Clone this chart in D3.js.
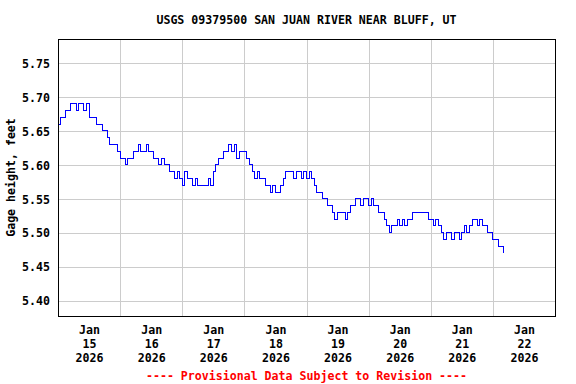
<!DOCTYPE html>
<html>
<head>
<meta charset="utf-8">
<script src="https://cdn.jsdelivr.net/npm/d3@7"></script>
<style>
body { margin:0; background:#fff; }
text { font-family: "DejaVu Sans Mono", monospace; font-weight: bold; font-size: 11.6px; }
.grid line { stroke:#cccccc; shape-rendering:crispEdges; }
.grid path { display:none; }
</style>
</head>
<body>
<div id="chart"></div>
<script>
// gage height, hourly, starting Jan 15 2026 00:00
var startTime = Date.UTC(2026, 0, 15, 0, 0);
var gageHeight = [
 5.66,5.67,5.67,5.68,5.68,5.69,5.69,5.68,5.69,5.69,5.68,5.69,5.67,5.67,5.67,5.66,5.66,5.65,5.65,5.64,5.63,5.63,5.63,5.62,
 5.61,5.61,5.60,5.61,5.61,5.62,5.62,5.63,5.62,5.62,5.63,5.62,5.62,5.61,5.61,5.60,5.61,5.60,5.60,5.59,5.59,5.58,5.59,5.58,
 5.57,5.59,5.58,5.58,5.57,5.58,5.57,5.57,5.57,5.57,5.58,5.57,5.59,5.60,5.61,5.61,5.62,5.62,5.63,5.62,5.63,5.61,5.62,5.62,
 5.62,5.61,5.60,5.59,5.58,5.59,5.58,5.58,5.57,5.57,5.56,5.57,5.56,5.56,5.57,5.58,5.59,5.59,5.59,5.58,5.59,5.59,5.58,5.59,
 5.58,5.59,5.58,5.57,5.56,5.56,5.55,5.55,5.54,5.54,5.53,5.52,5.53,5.53,5.53,5.52,5.53,5.54,5.54,5.55,5.55,5.54,5.55,5.55,
 5.54,5.55,5.54,5.54,5.53,5.53,5.52,5.51,5.50,5.51,5.51,5.52,5.51,5.52,5.51,5.52,5.52,5.53,5.53,5.53,5.53,5.53,5.53,5.52,
 5.52,5.51,5.52,5.51,5.50,5.49,5.50,5.50,5.49,5.50,5.50,5.49,5.50,5.51,5.50,5.51,5.52,5.52,5.51,5.52,5.51,5.51,5.50,5.50,
 5.49,5.49,5.48,5.48,5.47
];
var yTicks = [5.40,5.45,5.50,5.55,5.60,5.65,5.70,5.75];
var dayLabels = [15,16,17,18,19,20,21,22];
var monthLabel = "Jan";
var yearLabel = "2026";
var title = "USGS 09379500 SAN JUAN RIVER NEAR BLUFF, UT";
var yTitle = "Gage height, feet";
var footer = "---- Provisional Data Subject to Revision ----";

var W = 576, H = 384;
var margin = {left:58, top:39, right:21, bottom:68};
var w = W - margin.left - margin.right;
var h = H - margin.top - margin.bottom;

var data = gageHeight.map(function(v,i){
    return {t:new Date(startTime + i*3600000), v:v};
});

var svg = d3.select("#chart").append("svg").attr("width",W).attr("height",H);
var g = svg.append("g").attr("transform","translate("+margin.left+","+margin.top+")");

var x = d3.scaleUtc()
    .domain([new Date(Date.UTC(2026,0,15)), new Date(Date.UTC(2026,0,23))])
    .range([0,w]);
var y = d3.scaleLinear().domain([5.3775,5.7853]).range([h,0]);

// horizontal grid + labels
g.append("g").attr("class","grid")
    .call(d3.axisLeft(y).tickValues(yTicks).tickSize(-w).tickPadding(8).tickFormat(d3.format(".2f")))
    .selectAll("text").attr("fill","#000").attr("dy","0.36em");

// vertical grid at midnight
var midnights = d3.range(1,8).map(function(i){ return new Date(Date.UTC(2026,0,15+i)); });
g.append("g").attr("class","grid").attr("transform","translate(0,"+h+")")
    .call(d3.axisBottom(x).tickValues(midnights).tickSize(-h).tickFormat(""));

// day labels at noon
var noons = dayLabels.map(function(d){ return new Date(Date.UTC(2026,0,d,12)); });
var xl = g.append("g").attr("transform","translate(0,"+h+")")
    .call(d3.axisBottom(x).tickValues(noons).tickSize(0).tickFormat(""));
xl.select(".domain").remove();
xl.selectAll(".tick").each(function(d,i){
    var t = d3.select(this).append("text").attr("fill","#000").attr("text-anchor","middle");
    t.append("tspan").attr("x",0).attr("y",18).text(monthLabel);
    t.append("tspan").attr("x",0).attr("y",32).text(dayLabels[i]);
    t.append("tspan").attr("x",0).attr("y",46).text(yearLabel);
});

var line = d3.line()
    .x(function(d){ return x(d.t); })
    .y(function(d){ return y(d.v); })
    .curve(d3.curveStepAfter);

g.append("path").datum(data)
    .attr("d",line)
    .attr("fill","none")
    .attr("stroke","#0000ff")
    .attr("stroke-width",1)
    .attr("shape-rendering","crispEdges");

// frame
g.append("rect").attr("x",0.5).attr("y",0.5).attr("width",w).attr("height",h)
    .attr("fill","none").attr("stroke","#000").attr("shape-rendering","crispEdges");

svg.append("text").attr("x",margin.left+w/2).attr("y",24).attr("text-anchor","middle").text(title);
svg.append("text").attr("transform","translate(15,"+(margin.top+h/2)+") rotate(-90)")
    .attr("text-anchor","middle").text(yTitle);
svg.append("text").attr("x",margin.left+w/2).attr("y",380).attr("text-anchor","middle")
    .attr("fill","#ff0000").text(footer);
</script>
</body>
</html>
